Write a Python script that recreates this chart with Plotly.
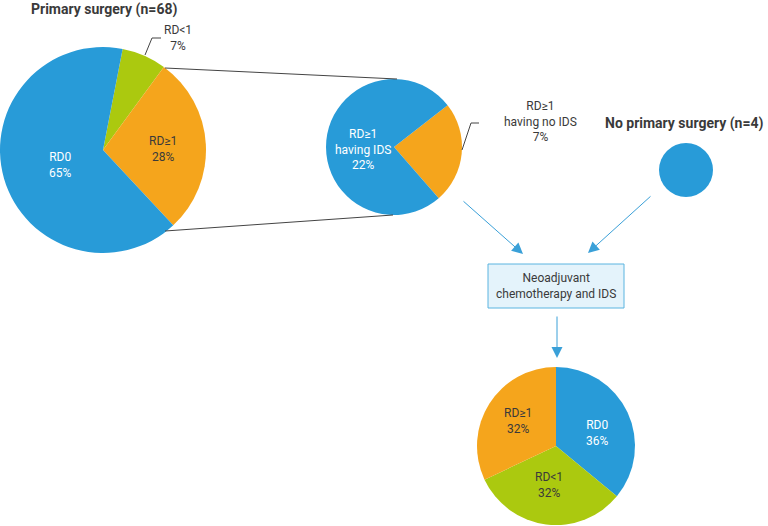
import plotly.graph_objects as go

# ---- data ----
primary_labels = ["RD<1", "RD≥1", "RD0"]
primary_display = ["RD<1", "RD≥1", "RD0"]
primary_values = [7, 28, 65]

ids_labels = ["RD≥1 having no IDS", "RD≥1 having IDS"]
ids_display = ["RD≥1<br>having no IDS", "RD≥1<br>having IDS"]
ids_values = [7, 22]

no_primary_labels = ["No primary surgery"]
no_primary_values = [4]

neo_labels = ["RD0", "RD<1", "RD≥1"]
neo_display = ["RD0", "RD<1", "RD≥1"]
neo_values = [36, 32, 32]

titles = ["Primary surgery (n=68)", "No primary surgery (n=4)"]
box_text = "Neoadjuvant<br>chemotherapy and IDS"

# ---- style ----
BLUE = "#289bd8"
ORANGE = "#f5a51c"
GREEN = "#abc90f"
DARK = "#3a3a3a"
W, H = 768, 526
FONT = "Roboto"


def dom(cx, cy, r):
    return dict(x=[(cx - r) / W, (cx + r) / W], y=[1 - (cy + r) / H, 1 - (cy - r) / H])


fig = go.Figure()

fig.add_trace(go.Pie(labels=primary_labels, values=primary_values, sort=False,
                     direction="clockwise", rotation=11, textinfo="none",
                     marker=dict(colors=[GREEN, ORANGE, BLUE], line=dict(width=0)),
                     domain=dom(103, 150, 103), hoverinfo="skip", showlegend=False))
fig.add_trace(go.Pie(labels=ids_labels, values=ids_values, sort=False,
                     direction="clockwise", rotation=52, textinfo="none",
                     marker=dict(colors=[ORANGE, BLUE], line=dict(width=0)),
                     domain=dom(394, 147, 68), hoverinfo="skip", showlegend=False))
fig.add_trace(go.Pie(labels=no_primary_labels, values=no_primary_values, sort=False,
                     textinfo="none", marker=dict(colors=[BLUE], line=dict(width=0)),
                     domain=dom(686, 170, 27), hoverinfo="skip", showlegend=False))
fig.add_trace(go.Pie(labels=neo_labels, values=neo_values, sort=False,
                     direction="clockwise", rotation=0, textinfo="none",
                     marker=dict(colors=[BLUE, GREEN, ORANGE], line=dict(width=0)),
                     domain=dom(556, 446, 79), hoverinfo="skip", showlegend=False))

anns = []


def txt(x, y, text, color=DARK, size=12, bold=False):
    anns.append(dict(x=x, y=y, xref="x", yref="y", text=f"<b>{text}</b>" if bold else text,
                     showarrow=False, font=dict(family=FONT, size=size, color=color),
                     align="center", xanchor="center", yanchor="middle"))


# titles
txt(104, 9, titles[0], size=14, bold=True)
txt(684, 123, titles[1], size=14, bold=True)

# primary pie labels
txt(178, 38, f"{primary_display[0]}<br>{primary_values[0]}%")
txt(163, 149, f"{primary_display[1]}<br>{primary_values[1]}%")
txt(60, 165, f"{primary_display[2]}<br>{primary_values[2]}%", color="white")

# ids pie labels
txt(363, 149, f"{ids_display[1]}<br>{ids_values[1]}%", color="white")
txt(540, 121, f"{ids_display[0]}<br>{ids_values[0]}%")

# neo pie labels
txt(597, 433, f"{neo_display[0]}<br>{neo_values[0]}%", color="white")
txt(549, 485, f"{neo_display[1]}<br>{neo_values[1]}%")
txt(518, 421, f"{neo_display[2]}<br>{neo_values[2]}%")

# box text
txt(556, 286, box_text)

# arrows
ARROW = "#3aa0d8"
for (tx, ty, hx, hy) in [(462, 200, 523, 254), (652, 195, 588, 253), (557, 315, 557, 358)]:
    anns.append(dict(x=hx, y=hy, ax=tx, ay=ty, xref="x", yref="y", axref="x", ayref="y",
                     text="", showarrow=True, arrowhead=2, arrowsize=2.2, arrowwidth=1,
                     arrowcolor=ARROW, standoff=0, startstandoff=0))

shapes = [
    dict(type="line", xref="x", yref="y", x0=165, y0=68, x1=397, y1=79,
         line=dict(color="#444444", width=1)),
    dict(type="line", xref="x", yref="y", x0=165, y0=231, x1=393, y1=215,
         line=dict(color="#444444", width=1)),
    dict(type="path", xref="x", yref="y", path="M 145 55 L 152 38 L 161 38",
         line=dict(color="#444444", width=1)),
    dict(type="path", xref="x", yref="y", path="M 462 150 L 471 123 L 479 123",
         line=dict(color="#444444", width=1)),
    dict(type="rect", xref="x", yref="y", x0=488, y0=264, x1=624, y1=308,
         fillcolor="#e4f3fb", line=dict(color="#5ab4e0", width=1), layer="below"),
]

fig.update_layout(
    width=W, height=H, margin=dict(l=0, r=0, t=0, b=0),
    paper_bgcolor="white", plot_bgcolor="rgba(0,0,0,0)",
    xaxis=dict(range=[0, W], visible=False, fixedrange=True),
    yaxis=dict(range=[H, 0], visible=False, fixedrange=True),
    annotations=anns, shapes=shapes, showlegend=False,
)

fig.write_html("out.html", config=dict(displayModeBar=False),
               post_script="document.body.style.margin='0';document.body.style.overflow='hidden';")
